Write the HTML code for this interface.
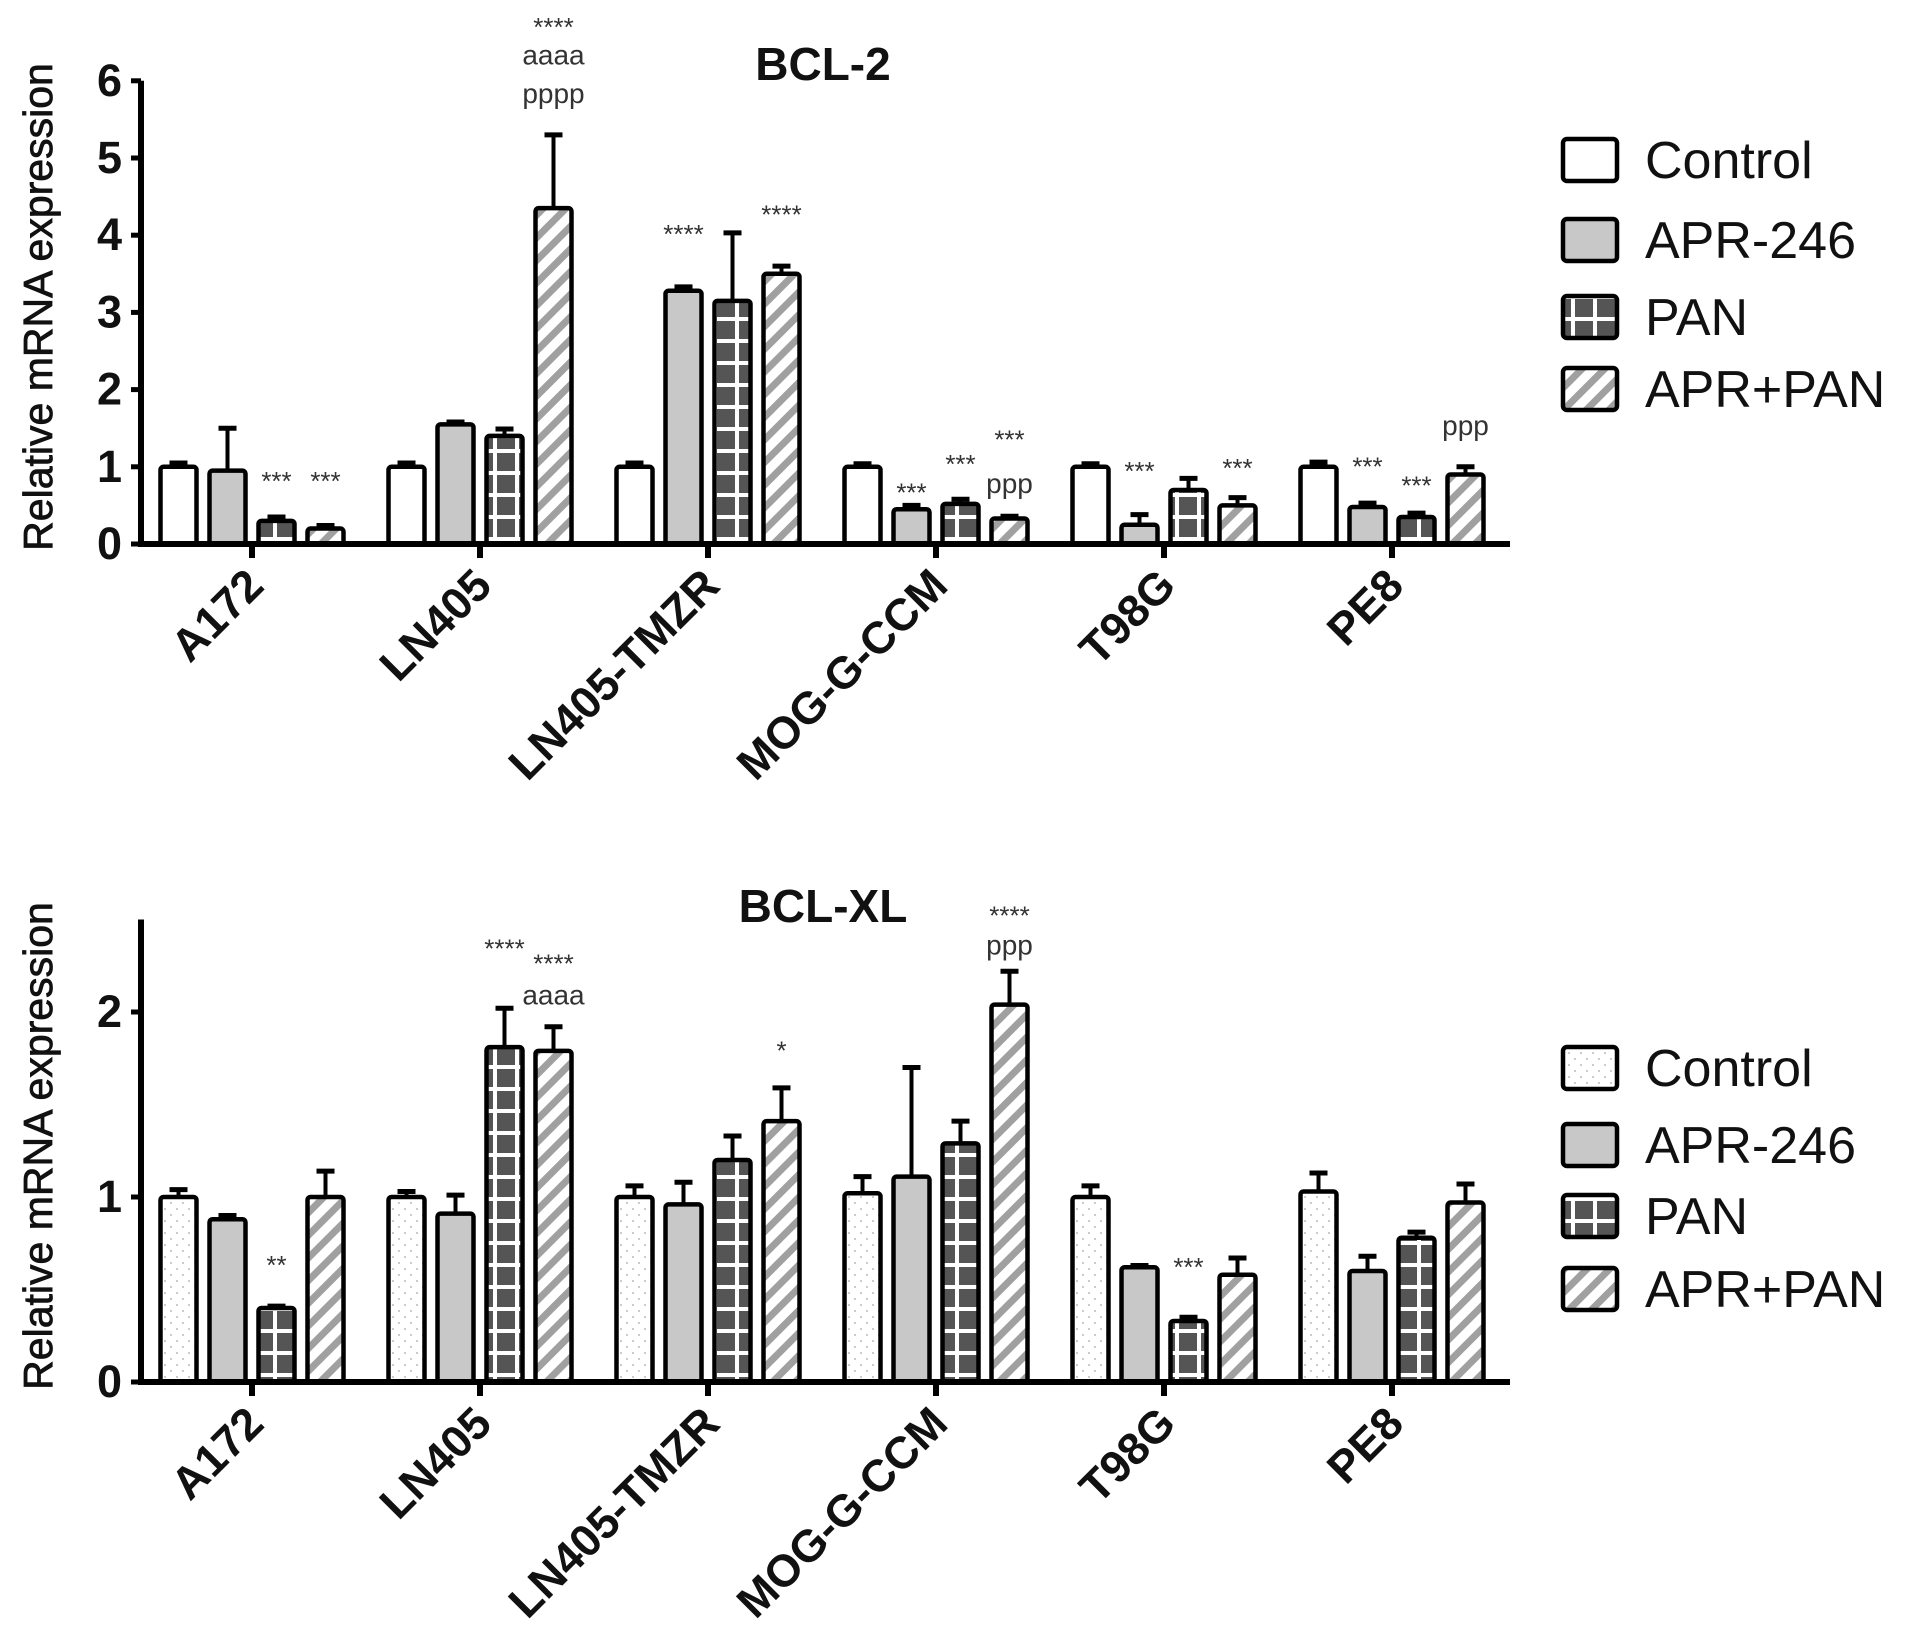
<!DOCTYPE html>
<html><head><meta charset="utf-8"><style>
html,body{margin:0;padding:0;background:#fff;}
svg{display:block;font-family:"Liberation Sans",sans-serif;}
</style></head><body>
<svg id="c" width="1913" height="1649" viewBox="0 0 1913 1649" xmlns="http://www.w3.org/2000/svg">
<defs>
<pattern id="pDots" width="12" height="12" patternUnits="userSpaceOnUse"><rect width="12" height="12" fill="#fff"/><circle cx="3" cy="3" r="1" fill="#bbb"/><circle cx="9" cy="9" r="1" fill="#bbb"/></pattern>
<pattern id="pCross" width="22" height="22" patternUnits="userSpaceOnUse"><rect width="22" height="22" fill="#555"/><rect x="9" y="0" width="4" height="22" fill="#fff"/><rect x="0" y="9" width="22" height="4" fill="#fff"/></pattern>
<pattern id="pHatch" width="16" height="16" patternUnits="userSpaceOnUse" patternTransform="rotate(45)"><rect width="16" height="16" fill="#fff"/><rect x="0" y="0" width="7" height="16" fill="#a0a0a0"/></pattern>
</defs>
</svg>
<script>
const categories = ["A172","LN405","LN405-TMZR","MOG-G-CCM","T98G","PE8"];
const seriesNames = ["Control","APR-246","PAN","APR+PAN"];
// BCL-2 values and error tops
const bcl2Control = [1.0,1.0,1.0,1.0,1.0,1.0];
const bcl2Apr = [0.95,1.55,3.28,0.45,0.25,0.48];
const bcl2Pan = [0.3,1.4,3.15,0.52,0.7,0.35];
const bcl2Combo = [0.2,4.35,3.5,0.33,0.5,0.9];
const bcl2ControlErr = [1.05,1.05,1.05,1.04,1.04,1.06];
const bcl2AprErr = [1.5,1.58,3.33,0.5,0.38,0.53];
const bcl2PanErr = [0.35,1.49,4.03,0.58,0.85,0.4];
const bcl2ComboErr = [0.24,5.3,3.6,0.36,0.6,1.0];
const bcl2Ticks = [0,1,2,3,4,5,6];
// BCL-XL values and error tops
const xlControl = [1.0,1.0,1.0,1.02,1.0,1.03];
const xlApr = [0.88,0.91,0.96,1.11,0.62,0.6];
const xlPan = [0.4,1.81,1.2,1.29,0.33,0.78];
const xlCombo = [1.0,1.79,1.41,2.04,0.58,0.97];
const xlControlErr = [1.04,1.03,1.06,1.11,1.06,1.13];
const xlAprErr = [0.9,1.01,1.08,1.7,0.63,0.68];
const xlPanErr = [0.41,2.02,1.33,1.41,0.35,0.81];
const xlComboErr = [1.14,1.92,1.59,2.22,0.67,1.07];
const xlTicks = [0,1,2];
// annotations: [group, bar, text, yValue]
const bcl2Notes = [[0,2,"***",0.88],[0,3,"***",0.88],[1,3,"****",6.76],[1,3,"aaaa",6.33],[1,3,"pppp",5.83],[2,1,"****",4.08],[2,3,"****",4.33],[3,1,"***",0.73],[3,2,"***",1.1],[3,3,"***",1.42],[3,3,"ppp",0.78],[4,1,"***",1.01],[4,3,"***",1.05],[5,1,"***",1.07],[5,2,"***",0.82],[5,3,"ppp",1.53]];
const xlNotes = [[0,2,"**",0.66],[1,2,"****",2.37],[1,3,"****",2.29],[1,3,"aaaa",2.09],[2,3,"*",1.82],[3,3,"****",2.55],[3,3,"ppp",2.36],[4,2,"***",0.65]];

const svg = document.getElementById('c');
const NS = "http://www.w3.org/2000/svg";
function mk(tag, attrs, parent){const e=document.createElementNS(NS,tag);for(const k in attrs)e.setAttribute(k,attrs[k]);(parent||svg).appendChild(e);return e;}

function drawPanel(opt){
  const g = mk('g',{});
  
  
  const y = v => opt.y0 - v*opt.ppu;
  const x = i => 252 + i*228;
  const offs = [-73.5,-24.5,24.5,73.5];
  const bw = 36;
  const fills = [opt.controlFill,"#c8c8c8","url(#pCross)","url(#pHatch)"];
  const vals = opt.vals, errs = opt.errs;
  for(let s=0;s<4;s++){
    for(let i=0;i<categories.length;i++){
      const cx = x(i)+offs[s];
      const eb = mk('line',{x1:cx,x2:cx,y1:y(vals[s][i]),y2:y(errs[s][i]),stroke:"#000","stroke-width":4},g);
      
      
      const cap = mk('line',{x1:cx-9,x2:cx+9,y1:y(errs[s][i]),y2:y(errs[s][i]),stroke:"#000","stroke-width":5},g);
      
      
      const r = mk('rect',{x:cx-bw/2,y:y(vals[s][i]),width:bw,height:opt.y0-y(vals[s][i]),fill:fills[s],stroke:"#000","stroke-width":4.5,rx:3},g);
      
      
    }
  }
  const ya = mk('line',{x1:141,x2:141,y1:opt.y0+3,y2:y(opt.axisTop),stroke:"#000","stroke-width":6},g);
  
  
  const xa = mk('line',{x1:138,x2:1510,y1:opt.y0,y2:opt.y0,stroke:"#000","stroke-width":6},g);
  
  
  opt.ticks.forEach(t=>{
    const tl = mk('line',{x1:131,x2:141,y1:y(t),y2:y(t),stroke:"#000","stroke-width":5},g);
    
    
    const tt = mk('text',{x:122,y:y(t)+15,"text-anchor":"end","font-size":45,"font-weight":"bold",fill:"#111"},g);
    tt.textContent = t;
    
    
  });
  categories.forEach((c,i)=>{
    const tk = mk('line',{x1:x(i),x2:x(i),y1:opt.y0,y2:opt.y0+14,stroke:"#000","stroke-width":6},g);
    
    
    const lt = mk('text',{x:0,y:0,"text-anchor":"end","font-size":45,"font-weight":"bold",fill:"#111",transform:`translate(${x(i)+14},${opt.y0+44}) rotate(-45)`},g);
    lt.textContent = c;
    
    
  });
  opt.notes.forEach(n=>{
    const isStar = n[2].indexOf('*')>=0;
    const t = mk('text',{x:x(n[0])+offs[n[1]],y:y(n[3])+(isStar?14:9),"text-anchor":"middle","font-size":isStar?26:28,fill:"#333"},g);
    t.textContent = n[2];
    
    
  });
  const ti = mk('text',{x:823,y:opt.titleY,"text-anchor":"middle","font-size":46,"font-weight":"bold",fill:"#111"},g);
  ti.textContent = opt.title;
  
  
  const yt = mk('text',{x:0,y:0,"text-anchor":"middle","font-size":41,fill:"#111",stroke:"#111","stroke-width":0.8,transform:`translate(52,${opt.yTitleY}) rotate(-90)`},g);
  yt.textContent = "Relative mRNA expression";
  
  
  opt.legendY.forEach((ly,s)=>{
    const lg = mk('g',{},g);
    
    
    mk('rect',{x:1563,y:ly-21,width:54,height:42,fill:fills[s],stroke:"#000","stroke-width":4.5,rx:4},lg);
    const lt = mk('text',{x:1645,y:ly+18,"font-size":52,fill:"#111"},lg);
    lt.textContent = seriesNames[s];
  });
}

drawPanel({name:"bcl2-panel",title:"BCL-2",titleY:80,y0:544,ppu:77.2,axisTop:6,ticks:bcl2Ticks,
  vals:[bcl2Control,bcl2Apr,bcl2Pan,bcl2Combo],errs:[bcl2ControlErr,bcl2AprErr,bcl2PanErr,bcl2ComboErr],
  notes:bcl2Notes,controlFill:"#fff",yTitleY:307,legendY:[160,240,317,389]});
drawPanel({name:"bclxl-panel",title:"BCL-XL",titleY:922,y0:1382,ppu:185,axisTop:2.5,ticks:xlTicks,
  vals:[xlControl,xlApr,xlPan,xlCombo],errs:[xlControlErr,xlAprErr,xlPanErr,xlComboErr],
  notes:xlNotes,controlFill:"url(#pDots)",yTitleY:1146,legendY:[1068,1145,1216,1289]});
</script>
</body></html>
